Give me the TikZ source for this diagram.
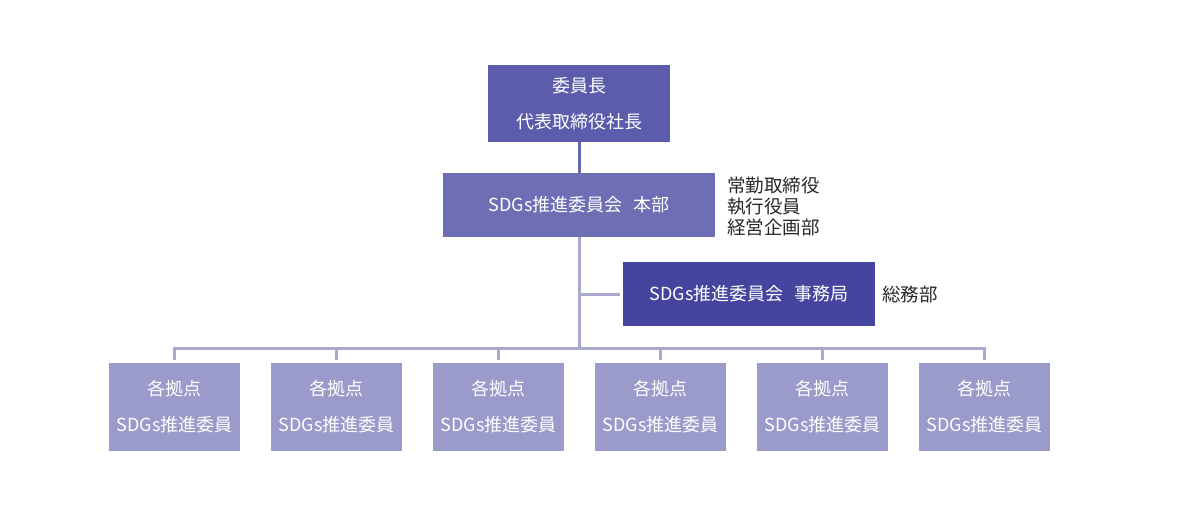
\documentclass[tikz,border=0pt]{standalone}
\usepackage{fontspec}
\setmainfont{Noto Sans CJK JP}
\usetikzlibrary{positioning, calc}
\definecolor{chairblue}{RGB}{92, 92, 172}
\definecolor{hqblue}{RGB}{110, 110, 180}
\definecolor{officeblue}{RGB}{69, 69, 160}
\definecolor{sitelilac}{RGB}{154, 154, 203}
\definecolor{linelilac}{RGB}{169, 169, 205}
\definecolor{linedark}{RGB}{104, 104, 172}
\definecolor{notegray}{RGB}{40, 40, 40}

\begin{document}
\begin{tikzpicture}[
  x=1pt, y=-1pt,
  box/.style={fill, text=white, inner sep=0pt, align=center, font=\fontsize{18}{36}\selectfont},
  note/.style={anchor=west, align=left, inner sep=0pt, text=notegray, font=\fontsize{18.5}{21}\selectfont},
  link/.style={line width=3pt, linelilac}
]
  \useasboundingbox (0,0) rectangle (1191,517);

  % Chair
  \node[box, fill=chairblue, minimum width=182pt, minimum height=77pt] (chair) at (579, 103.5) {委員長\\代表取締役社長};

  % Headquarters
  \node[box, fill=hqblue, minimum width=272pt, minimum height=64pt] (hq) at (579, 205) {SDGs推進委員会\hspace{0.6em}本部};
  \node[note] (hqnote) at (727, 206) {常勤取締役\\執行役員\\経営企画部};

  % Secretariat
  \node[box, fill=officeblue, minimum width=252pt, minimum height=64pt] (office) at (749, 294) {SDGs推進委員会\hspace{0.6em}事務局};
  \node[note] (officenote) at (882, 294) {総務部};

  % Sites
  \foreach \i/\x in {1/174.5, 2/336.5, 3/498.5, 4/660.5, 5/822.5, 6/984.5}
    \node[box, fill=sitelilac, minimum width=131pt, minimum height=88pt] (site\i) at (\x, 407) {各拠点\\SDGs推進委員};

  \coordinate (bar) at (579, 348);

  \draw[line width=3pt, linedark] (chair.south) -- (hq.north);
  \draw[link] (hq.south) -- (bar);
  \draw[link] (hq.south |- office.west) -- ([xshift=-3pt]office.west);
  \draw[link, line cap=rect] (site1.north |- bar) -- (site6.north |- bar);
  \foreach \i in {1,...,6}
    \draw[link] (site\i.north |- bar) -- ([yshift=3pt]site\i.north);
\end{tikzpicture}
\end{document}
